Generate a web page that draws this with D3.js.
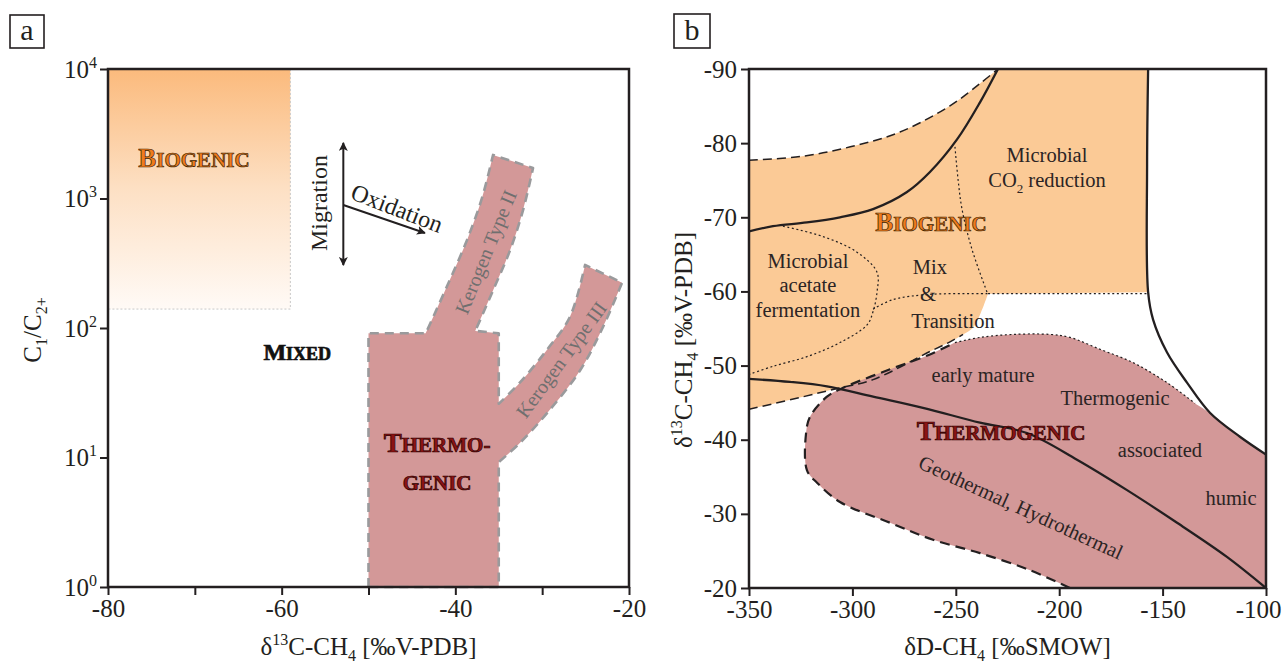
<!DOCTYPE html>
<html><head><meta charset="utf-8">
<script src="https://cdn.jsdelivr.net/npm/d3@7"></script>
<style>
body{margin:0;background:#fff}
svg text{font-family:"Liberation Serif","Times New Roman",serif}
</style>
</head><body>
<svg id="c" width="1283" height="665"></svg>
<script>
// ================= PANEL A DATA =================
const aXTicks = [-80, -70, -60, -50, -40, -30, -20];
const aXLabels = [-80, -60, -40, -20];
const aYTicks = [1, 10, 100, 1000, 10000];
const aYExponents = ["0", "1", "2", "3", "4"];
const biogenicBoxX = [-80, -59];
const biogenicBoxY = [140, 10000];
// thermogenic field (δ13C, C1/C2+) outline pieces
const stemLeft = [[-50, 1], [-50, 91], [-43.4, 91]];
const kerogen2Left = [[-43.4, 91], [-41, 207], [-38.65, 479], [-36.9, 1023], [-35.66, 2170]];
const kerogen2Right = [[-31.05, 1718], [-32.2, 813], [-33.7, 398], [-35.66, 195], [-37.7, 95]];
const stemTopRight = [[-37.7, 95], [-35, 91], [-35, 26]];
const kerogen3Left = [[-35, 26], [-32.55, 38], [-29.44, 68], [-26.8, 122], [-25.06, 307]];
const kerogen3Right = [[-20.8, 224], [-22.99, 102], [-25.64, 47], [-29.44, 22], [-32.55, 13], [-35, 9.2]];
const stemBottom = [[-35, 9.2], [-35, 1]];
// annotation anchors (data units)
const migrationArrow = [[-52.9, 2690], [-52.9, 306]];
const oxidationArrow = [[-52.9, 890], [-43.5, 542]];

// ================= PANEL B DATA =================
const bXTicks = [-350, -300, -250, -200, -150, -100];
const bYTicks = [-90, -80, -70, -60, -50, -40, -30, -20];
const bioUpperDashed = [[-350, -77.7], [-325, -78.2], [-301, -79.5], [-277, -81.5], [-253, -85], [-238, -88.1], [-229.6, -90]];
const bioLowerEdge = [[-350, -44.1], [-325.3, -45.7], [-306, -47], [-290, -48.1], [-262.5, -51.9], [-252.8, -53.2], [-246.5, -54.2], [-241.7, -55.1], [-237.8, -57.2], [-234.4, -59.7]];
const curveA = [[-350, -68.1], [-338.4, -68.8], [-322, -69.3], [-306, -70], [-290, -71.1], [-273.6, -73.4], [-262.5, -76.1], [-249.4, -80.5], [-238.3, -85.5], [-229.6, -90]];
const curveB = [[-157, -90], [-157.5, -76.9], [-157, -59.9], [-154.6, -56.2], [-147.9, -51.8], [-138.2, -47.7], [-127, -43.6], [-112.6, -40.4], [-100, -38]];
const curveC = [[-350, -48.2], [-330.2, -47.8], [-312.3, -47.2], [-290, -45.8], [-265.9, -44.3], [-238.3, -42.3], [-215.6, -40.9], [-191.4, -37.3], [-167.2, -33.2], [-143, -28.8], [-118.9, -24.2], [-100, -20]];
const thermoTopDotted = [[-250.4, -53.1], [-238.3, -53.8], [-222.3, -54.2], [-204.4, -54.2], [-194.8, -53.8], [-180.3, -52.2], [-164.3, -50.4], [-147.9, -47.7], [-134.3, -44.9]];
const thermoRightEdge = [[-134.3, -44.9], [-127, -43.6], [-112.6, -40.4], [-100, -38]];
const thermoDashed = [[-194.8, -20], [-214.1, -22.4], [-238.3, -24.7], [-261, -26.5], [-281.8, -28.8], [-306, -31.6], [-317.1, -34.2], [-322, -35.9], [-322.4, -40.9], [-320.5, -43.1], [-312.3, -45.8], [-304.5, -47], [-281.8, -49.5], [-262.5, -51.5], [-250.4, -53.1]];
const acetateDotted = [[-333.6, -68.8], [-314.2, -67.4], [-297.8, -65.3], [-288.1, -62.6], [-288.1, -59.9], [-290, -57.3], [-292.9, -55.5], [-306, -53.1], [-322, -51.2], [-338.4, -49.9], [-350, -48.8]];
const mixDotted = [[-290, -57.6], [-280.4, -58.9], [-262.5, -59.6], [-234.4, -59.7]];
const co2Dotted = [[-234.4, -59.7], [-157, -59.7]];
const verticalDotted = [[-250.4, -79.5], [-248.9, -75.1], [-247, -71.1], [-242.2, -65.7], [-234.9, -59.9]];

const svg = d3.select("#c");
const ink = "#231f20";
const orange = "#fbca96";
const pink = "#d39898";
const TICK_FS = 25, TITLE_FS = 25, LBL_FS = 20.5;

const xA = d3.scaleLinear().domain([-80, -20]).range([108, 629]);
const yA = d3.scaleLog().domain([1, 10000]).range([587, 69]);
const xB = d3.scaleLinear().domain([-350, -100]).range([749, 1266]);
const yB = d3.scaleLinear().domain([-90, -20]).range([69, 588]);

const defs = svg.append("defs");
const grad = defs.append("linearGradient").attr("id", "bioGrad").attr("x1", 0).attr("y1", 0).attr("x2", 0).attr("y2", 1);
grad.append("stop").attr("offset", 0).attr("stop-color", "#fbba7c");
grad.append("stop").attr("offset", 0.5).attr("stop-color", "#fde0c4");
grad.append("stop").attr("offset", 1).attr("stop-color", "#fffaf6");
defs.append("clipPath").attr("id", "clipB").append("rect")
  .attr("x", xB(-350)).attr("y", yB(-90)).attr("width", xB(-100) - xB(-350)).attr("height", yB(-20) - yB(-90));

function joinPath(pieces) {
  let d = "";
  pieces.forEach(([pts, curve, xs, ys], i) => {
    let s;
    if (pts.length === 1) {
      s = "M" + xs(pts[0][0]) + "," + ys(pts[0][1]);
    } else {
      s = d3.line().x(p => xs(p[0])).y(p => ys(p[1])).curve(curve)(pts);
    }
    if (i > 0) s = "L" + s.slice(1);
    d += s;
  });
  return d + "Z";
}
function linePath(pts, xs, ys, curve) {
  return d3.line().x(p => xs(p[0])).y(p => ys(p[1])).curve(curve || d3.curveCatmullRom.alpha(0.5))(pts);
}
function smallCaps(g, x, y, first, rest, big, small, fill, stroke, anchor) {
  const t = g.append("text").attr("x", x).attr("y", y).attr("text-anchor", anchor || "middle")
    .attr("font-weight", "bold").attr("fill", fill).attr("stroke", stroke).attr("stroke-width", 0.7);
  if (first) t.append("tspan").attr("font-size", big).text(first);
  t.append("tspan").attr("font-size", small).text(rest);
  return t;
}

// ================= PANEL A =================
const gA = svg.append("g");
gA.append("rect").attr("x", xA(biogenicBoxX[0])).attr("y", yA(biogenicBoxY[1]))
  .attr("width", xA(biogenicBoxX[1]) - xA(biogenicBoxX[0])).attr("height", yA(biogenicBoxY[0]) - yA(biogenicBoxY[1]))
  .attr("fill", "url(#bioGrad)");
gA.append("path").attr("d", `M${xA(biogenicBoxX[1])},${yA(biogenicBoxY[1])}V${yA(biogenicBoxY[0])}H${xA(biogenicBoxX[0])}`)
  .attr("fill", "none").attr("stroke", "#c8c8c8").attr("stroke-width", 1).attr("stroke-dasharray", "2,2");

const cr = d3.curveCatmullRom.alpha(0.5), lin = d3.curveLinear;
const thermoA = joinPath([
  [stemLeft, lin, xA, yA], [kerogen2Left, cr, xA, yA], [kerogen2Right, cr, xA, yA],
  [stemTopRight, lin, xA, yA], [kerogen3Left, cr, xA, yA], [kerogen3Right, cr, xA, yA], [stemBottom, lin, xA, yA]
]);
gA.append("path").attr("d", thermoA).attr("fill", pink).attr("stroke", "#9a9a9c")
  .attr("stroke-width", 2.6).attr("stroke-dasharray", "9,6").attr("stroke-linejoin", "round");

// labels panel a
smallCaps(gA, xA(-70.1), yA(1750), "B", "IOGENIC", 27, 21, "#ef7b1c", "#3b2200");
smallCaps(gA, xA(-58.2), yA(57), "M", "IXED", 24, 18, "#111", "#111");
smallCaps(gA, xA(-42.1), yA(11), "T", "HERMO-", 27, 21, "#8c1313", "#2a0000");
smallCaps(gA, xA(-42.1), yA(5.6), "", "GENIC", 27, 21, "#8c1313", "#2a0000");

gA.append("text").attr("transform", `translate(${xA(-36.5)},${yA(386)}) rotate(-67.7)`)
  .attr("text-anchor", "middle").attr("dy", "0.35em").attr("font-size", 20).attr("fill", "#6f6f6f").text("Kerogen Type II");
gA.append("text").attr("transform", `translate(${xA(-27.8)},${yA(57)}) rotate(-53.7)`)
  .attr("text-anchor", "middle").attr("dy", "0.35em").attr("font-size", 20).attr("fill", "#6f6f6f").text("Kerogen Type III");

// arrows
const mk = defs.append("marker").attr("id", "ah").attr("viewBox", "0 0 10 10").attr("refX", 9).attr("refY", 5)
  .attr("markerWidth", 9).attr("markerHeight", 9).attr("markerUnits", "userSpaceOnUse").attr("orient", "auto-start-reverse");
mk.append("path").attr("d", "M0,0L10,5L0,10L2.5,5Z").attr("fill", ink);
gA.append("line").attr("x1", xA(migrationArrow[0][0])).attr("y1", yA(migrationArrow[0][1]))
  .attr("x2", xA(migrationArrow[1][0])).attr("y2", yA(migrationArrow[1][1]))
  .attr("stroke", ink).attr("stroke-width", 2).attr("marker-start", "url(#ah)").attr("marker-end", "url(#ah)");
gA.append("line").attr("x1", xA(oxidationArrow[0][0])).attr("y1", yA(oxidationArrow[0][1]))
  .attr("x2", xA(oxidationArrow[1][0])).attr("y2", yA(oxidationArrow[1][1]))
  .attr("stroke", ink).attr("stroke-width", 2).attr("marker-end", "url(#ah)");
gA.append("text").attr("transform", `translate(${xA(-55.8)},${yA(922)}) rotate(-90)`)
  .attr("text-anchor", "middle").attr("dy", "0.35em").attr("font-size", 24).attr("fill", ink).text("Migration");
gA.append("text").attr("transform", `translate(${xA(-46.7)},${yA(845)}) rotate(21)`)
  .attr("text-anchor", "middle").attr("dy", "0.35em").attr("font-size", 24).attr("fill", ink).text("Oxidation");

// axes panel a
function styleAxis(g, fs) {
  g.select(".domain").remove();
  g.selectAll(".tick line").attr("stroke", ink).attr("stroke-width", 2);
  g.selectAll(".tick text").attr("fill", ink).attr("font-size", fs).attr("font-family", "Liberation Serif");
}
const axA = gA.append("g").attr("transform", `translate(0,${yA(1)})`)
  .call(d3.axisBottom(xA).tickValues(aXTicks).tickSize(8).tickPadding(4).tickFormat(d => aXLabels.includes(d) ? String(d) : ""));
styleAxis(axA, TICK_FS);
const ayA = gA.append("g").attr("transform", `translate(${xA(-80)},0)`)
  .call(d3.axisLeft(yA).tickValues(aYTicks).tickSize(8).tickPadding(4).tickFormat(() => ""));
styleAxis(ayA, TICK_FS);
ayA.selectAll(".tick text").each(function (d, i) {
  const t = d3.select(this).attr("dy", "0.32em").attr("x", -11);
  t.append("tspan").text("10");
  t.append("tspan").attr("dy", -10).attr("font-size", 16).text(aYExponents[i]);
});
gA.append("rect").attr("x", xA(-80)).attr("y", yA(10000)).attr("width", xA(-20) - xA(-80)).attr("height", yA(1) - yA(10000))
  .attr("fill", "none").attr("stroke", ink).attr("stroke-width", 2.5);

// axis titles panel a
const tA = gA.append("text").attr("x", (xA(-80) + xA(-20)) / 2).attr("y", 655).attr("text-anchor", "middle").attr("font-size", TITLE_FS).attr("fill", ink);
tA.append("tspan").text("δ");
tA.append("tspan").attr("dy", -10).attr("font-size", 16).text("13");
tA.append("tspan").attr("dy", 10).text("C-CH");
tA.append("tspan").attr("dy", 6).attr("font-size", 16).text("4");
tA.append("tspan").attr("dy", -6).text(" [‰V-PDB]");
const tAy = gA.append("text").attr("transform", `translate(41,${yA(100) + 2}) rotate(-90)`).attr("text-anchor", "middle").attr("font-size", TITLE_FS).attr("fill", ink);
tAy.append("tspan").text("C");
tAy.append("tspan").attr("dy", 6).attr("font-size", 16).text("1");
tAy.append("tspan").attr("dy", -6).text("/C");
tAy.append("tspan").attr("dy", 6).attr("font-size", 16).text("2+");

// panel label a
svg.append("rect").attr("x", 10).attr("y", 15).attr("width", 34).attr("height", 33).attr("fill", "none").attr("stroke", ink).attr("stroke-width", 1.6);
svg.append("text").attr("x", 27).attr("y", 40).attr("text-anchor", "middle").attr("font-size", 30).attr("fill", ink).text("a");

// ================= PANEL B =================
const gB = svg.append("g");
const gBc = gB.append("g").attr("clip-path", "url(#clipB)");

const orangePath = joinPath([
  [bioUpperDashed, cr, xB, yB],
  [[[-157, -90]], lin, xB, yB],
  [curveB.slice(0, 3), cr, xB, yB],
  [[[-234.4, -59.7]], lin, xB, yB],
  [bioLowerEdge.slice().reverse(), cr, xB, yB]
]);
gBc.append("path").attr("d", orangePath).attr("fill", orange);

const pinkPath = joinPath([
  [thermoTopDotted, cr, xB, yB],
  [thermoRightEdge, cr, xB, yB],
  [[[-100, -20]], lin, xB, yB],
  [thermoDashed, cr, xB, yB]
]);
gBc.append("path").attr("d", pinkPath).attr("fill", pink);

const dotted = (pts) => gBc.append("path").attr("d", linePath(pts, xB, yB)).attr("fill", "none")
  .attr("stroke", ink).attr("stroke-width", 1.2).attr("stroke-dasharray", "2,2.6");
dotted(acetateDotted);
dotted(mixDotted);
dotted(co2Dotted);
dotted(verticalDotted);
dotted(thermoTopDotted);

gBc.append("path").attr("d", linePath(bioUpperDashed, xB, yB)).attr("fill", "none").attr("stroke", ink)
  .attr("stroke-width", 1.5).attr("stroke-dasharray", "9,5");
gBc.append("path").attr("d", linePath(bioLowerEdge.slice(0, 7), xB, yB)).attr("fill", "none").attr("stroke", ink)
  .attr("stroke-width", 1.5).attr("stroke-dasharray", "9,5");
gBc.append("path").attr("d", linePath(thermoDashed, xB, yB)).attr("fill", "none").attr("stroke", ink)
  .attr("stroke-width", 2.2).attr("stroke-dasharray", "10,6");

[curveA, curveB, curveC].forEach(c => gBc.append("path").attr("d", linePath(c, xB, yB)).attr("fill", "none")
  .attr("stroke", ink).attr("stroke-width", 2.3));

// labels panel b
const lbl = (x, y, txt, anchor) => gB.append("text").attr("x", xB(x)).attr("y", yB(y)).attr("text-anchor", anchor || "middle")
  .attr("font-size", LBL_FS).attr("fill", "#2b2424").text(txt);
lbl(-321.5, -63.2, "Microbial");
lbl(-321.5, -59.9, "acetate");
lbl(-321.5, -56.5, "fermentation");
lbl(-262.5, -62.3, "Mix");
lbl(-263.5, -58.7, "&");
lbl(-251.4, -55.1, "Transition");
lbl(-205.9, -77.4, "Microbial");
const co2 = gB.append("text").attr("x", xB(-205.9)).attr("y", yB(-74.1)).attr("text-anchor", "middle").attr("font-size", LBL_FS).attr("fill", "#2b2424");
co2.append("tspan").text("CO");
co2.append("tspan").attr("dy", 6).attr("font-size", 13).text("2");
co2.append("tspan").attr("dy", -6).text(" reduction");
lbl(-236.8, -47.8, "early mature");
lbl(-173, -44.7, "Thermogenic");
lbl(-151.3, -37.7, "associated");
lbl(-116.9, -31.2, "humic");
gB.append("text").attr("transform", `translate(${xB(-218.5)},${yB(-30.9)}) rotate(24.6)`).attr("text-anchor", "middle")
  .attr("dy", "0.35em").attr("font-size", LBL_FS).attr("fill", "#2b2424").text("Geothermal, Hydrothermal");
smallCaps(gB, xB(-262), yB(-68.1), "B", "IOGENIC", 27, 21, "#ef7b1c", "#3b2200");
smallCaps(gB, xB(-228.1), yB(-39.9), "T", "HERMOGENIC", 27, 21, "#8c1313", "#2a0000");

// axes panel b
const axB = gB.append("g").attr("transform", `translate(0,${yB(-20)})`)
  .call(d3.axisBottom(xB).tickValues(bXTicks).tickSize(8).tickPadding(4).tickFormat(d => String(d)));
styleAxis(axB, TICK_FS);
axB.selectAll(".tick text").filter(d => d === -100).attr("text-anchor", "end").attr("x", 1283 - 2 - xB(-100));
const ayB = gB.append("g").attr("transform", `translate(${xB(-350)},0)`)
  .call(d3.axisLeft(yB).tickValues(bYTicks).tickSize(8).tickPadding(4).tickFormat(d => String(d)));
styleAxis(ayB, TICK_FS);
gB.append("rect").attr("x", xB(-350)).attr("y", yB(-90)).attr("width", xB(-100) - xB(-350)).attr("height", yB(-20) - yB(-90))
  .attr("fill", "none").attr("stroke", ink).attr("stroke-width", 2.5);

const tB = gB.append("text").attr("x", (xB(-350) + xB(-100)) / 2).attr("y", 655).attr("text-anchor", "middle").attr("font-size", TITLE_FS).attr("fill", ink);
tB.append("tspan").text("δD-CH");
tB.append("tspan").attr("dy", 6).attr("font-size", 16).text("4");
tB.append("tspan").attr("dy", -6).text(" [‰SMOW]");
const tBy = gB.append("text").attr("transform", `translate(692,340) rotate(-90)`).attr("text-anchor", "middle").attr("font-size", TITLE_FS).attr("fill", ink);
tBy.append("tspan").text("δ");
tBy.append("tspan").attr("dy", -10).attr("font-size", 16).text("13");
tBy.append("tspan").attr("dy", 10).text("C-CH");
tBy.append("tspan").attr("dy", 6).attr("font-size", 16).text("4");
tBy.append("tspan").attr("dy", -6).text(" [‰V-PDB]");

svg.append("rect").attr("x", 674).attr("y", 14).attr("width", 36).attr("height", 34).attr("fill", "none").attr("stroke", ink).attr("stroke-width", 1.6);
svg.append("text").attr("x", 692).attr("y", 40).attr("text-anchor", "middle").attr("font-size", 30).attr("fill", ink).text("b");
</script>
</body></html>
